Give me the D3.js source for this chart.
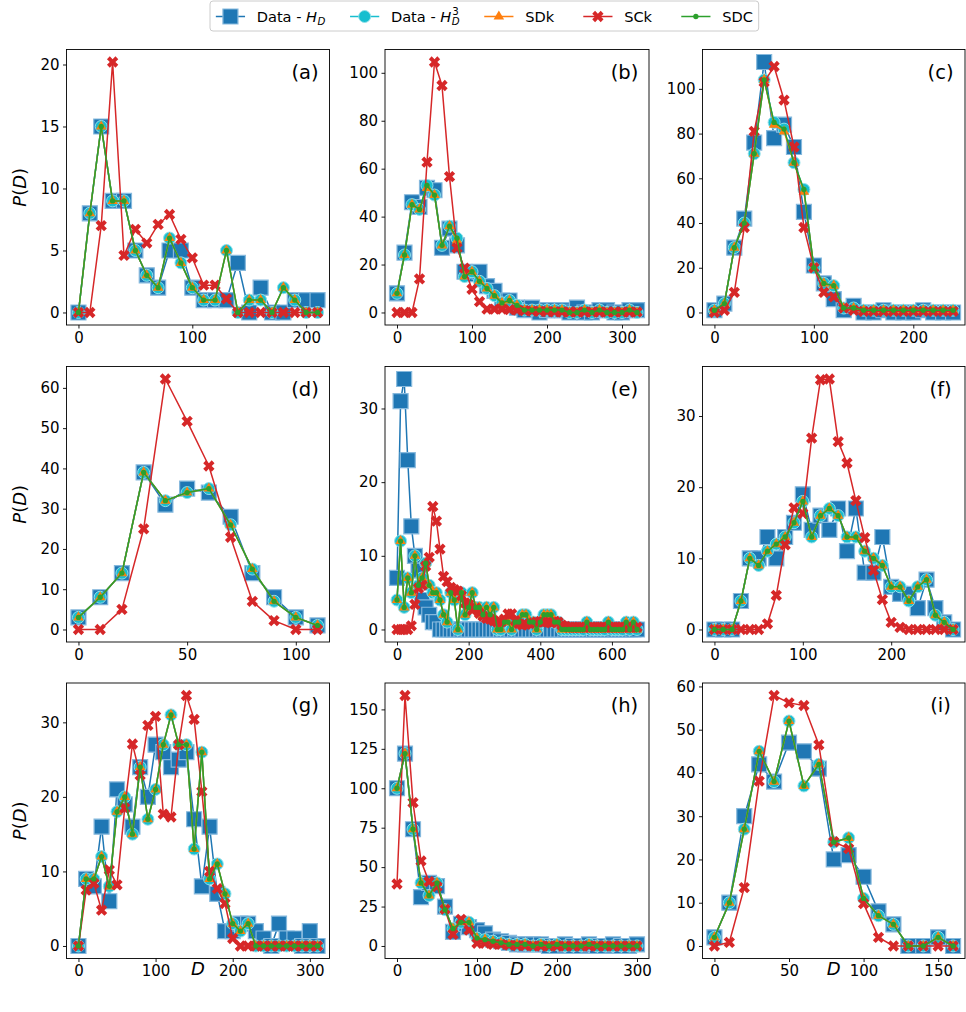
<!DOCTYPE html>
<html><head><meta charset="utf-8">
<script src="https://cdn.jsdelivr.net/npm/d3@7"></script>
<style>body{margin:0;background:#fff} svg{display:block} text{font-family:"DejaVu Sans",sans-serif;fill:#000}</style>
</head><body><svg id="c" width="966" height="1012"></svg>
<script>
// D values are spaced by this step in every panel (0, 10, 20, ...)
const stepD = 10;

// ---- (a) ----
const hdA  = [0,8,15,9,9,5,3,2,5,5,2,1,1,1,4,0,2,0,0,1,1,1];
const hd3A = [0,8,15,9,9,5,3,2,6,4,2,1,1,5,0,1,1,0,2,1,0,0];
const sdkA = [0,8,15,9,9,5,3,2,6,4,2,1,1,5,0,1,1,0,2,1,0,0];
const sckA = [0,0,7,20.2,4.6,6.7,5.6,7.1,7.9,5.9,4.4,2.2,2.2,1.1,0,0,0,0,0,0,0,0];
const sdcA = [0,8,15,9,9,5,3,2,6,4,2,1,1,5,0,1,1,0,2,1,0,0];
const xtA = [0,100,200], ytA = [0,5,10,15,20];

// ---- (b) ----
const hdB  = [8,25,46,44,52,51,27,35,28,17,16,17,11,9,5,5,2,1,2,0,1,1,1,0,2,0,0,1,1,0,0,1,1];
const hd3B = [8,24,45,43,53,49,28,36,31,15,17,13,10,7,4,5,3,1,1,1,1,1,1,0,0,1,0,1,0,0,0,1,0];
const sdkB = [8,24,45,43,52,49,28,36,30,15,17,13,10,7,4,5,3,1,1,1,1,1,1,0,0,1,0,1,0,0,0,1,0];
const sckB = [0,0,0,14,62.7,104.5,94.7,56.7,26.9,18.5,9.7,4.5,1.4,1.4,1.4,1.2,1.0,0.8,0.6,0.5,0.4,0.3,0.2,0.2,0.2,0.2,0.2,0.2,0.2,0.2,0.2,0.2,0.2];
const sdcB = [8,24,45,43,53,49,28,36,31,15,17,13,10,7,4,5,3,1,1,1,1,1,1,0,0,1,0,1,0,0,0,1,0];
const xtB = [0,100,200,300], ytB = [0,20,40,60,80,100];

// ---- (c) ----
const hdC  = [1,4,29,42,76,112,78,84,74,45,21,13,6,1,3,0,0,1,0,0,0,1,0,0,0];
const hd3C = [1,4,29,40,71,104,85,82,67,55,20,13,12,2,2,1,1,1,1,1,1,1,1,1,1];
const sdkC = [1,4,29,40,71,104,84,81,67,54,20,13,12,2,2,1,1,1,1,1,1,1,1,1,1];
const sckC = [0,1,9,38,81,103,110,95,74,38,20,9,7,2,1,0.5,0.5,0.5,0.5,0.5,0.5,0.5,0.5,0.5,0.5];
const sdcC = [1,4,29,40,71,104,85,82,67,55,20,13,12,2,2,1,1,1,1,1,1,1,1,1,1];
const xtC = [0,100,200], ytC = [0,20,40,60,80,100];

// ---- (d) ----
const hdD  = [3,8,14,39,31,35,34,28,14,8,3,1];
const hd3D = [3,8,14,39,32,34,35,26,15,7,3,1];
const sdkD = [3,8,14,39,32,34,35,26,15,7,3,1];
const sckD = [0,0,5,25,62.2,51.7,40.6,22.9,7,2.2,0,0];
const sdcD = [3,8,14,39,32,34,35,26,15,7,3,1];
const xtD = [0,50,100], ytD = [0,10,20,30,40,50,60];

// ---- (e) ----
const hdE  = [7,31,34,23,14,10,8,4,3,2,
              1,1,0,0,0,0,0,0,0,0,
              0,0,0,0,0,0,0,0,0,0,
              0,0,0,0,0,0,0,0,0,0,
              0,0,0,0,0,0,0,0,0,0,
              0,0,0,0,0,0,0,0,0,0,
              0,0,0,0,0,0,0,0];
const hd3E = [4,12,3,7,5,10,6,7,9,6,
              5,5,4,2,1,5,4,0,5,2,
              3,5,3,3,2,3,2,3,0,0,
              1,1,0,1,1,2,2,1,1,0,
              1,2,2,2,1,1,0,0,0,0,
              0,0,0,1,0,0,0,0,0,1,
              0,0,0,0,1,0,1,0];
const sdkE = [4,12,3,7,5,10,6,7,9,6,
              5,5,4,2,1,5,4,0,5,2,
              3,5,3,3,2,3,2,3,0,0,
              1,1,0,1,1,2,2,1,1,0,
              1,2,2,2,1,1,0,0,0,0,
              0,0,0,1,0,0,0,0,0,1,
              0,0,0,0,1,0,1,0];
const sckE = [0,0,0,0,0.5,3.4,5.6,6,8.6,9.8,
              16.7,14.7,10.9,7.2,6.5,5.7,5.4,5.2,4.6,3.6,
              3.4,2.6,2.9,2.2,1.8,1.5,1.4,1.2,1.0,1.0,
              1.4,2.1,2.1,1.2,0.8,0.6,0.7,0.8,0.9,1.0,
              1.1,1.0,1.0,0.9,1.1,1.0,0.6,0.4,0.3,0.3,
              0.3,0.3,0.3,0.3,0.3,0.3,0.3,0.3,0.3,0.3,
              0.3,0.3,0.3,0.3,0.3,0.3,0.3,0.3];
const sdcE = [4,12,3,7,5,10,6,7,9,6,
              5,5,4,2,1,5,4,0,5,2,
              3,5,3,3,2,3,2,3,0,0,
              1,1,0,1,1,2,2,1,1,0,
              1,2,2,2,1,1,0,0,0,0,
              0,0,0,1,0,0,0,0,0,1,
              0,0,0,0,1,0,1,0];
const xtE = [0,200,400,600], ytE = [0,10,20,30];

// ---- (f) ----
const hdF  = [0,0,0,4,10,10,13,10,13,15,19,14,16,14,17,11,17,8,8,13,6,5,5,3,7,3,1,0];
const hd3F = [0,0,0,4,10,9,11,12,13,15,18,13,16,17,16,13,13,11,10,9,6,6,4,6,7,2,1,0];
const sdkF = [0,0,0,4,10,9,11,12,13,15,18,13,16,17,16,13,13,11,10,9,6,6,4,6,7,2,1,0];
const sckF = [0,0,0,0,0,0,0.8,4.8,11.9,17.1,16.3,26.9,35.1,35.2,26.4,23.4,18.1,12.9,8.3,4.2,1,0.3,0,0,0,0,0,0];
const sdcF = [0,0,0,4,10,9,11,12,13,15,18,13,16,17,16,13,13,11,10,9,6,6,4,6,7,2,1,0];
const xtF = [0,100,200], ytF = [0,10,20,30];

// ---- (g) ----
const hdG  = [0,9,8,16,6,21,19,16,24,20,27,26,24,25,26,17,8,16,7,2,2,3,3,2,1,0,3,1,1,0,2,0];
const hd3G = [0,9,9,12,8,18,20,15,24,17,21,27,31,27,27,13,26,9,11,7,3,2,3,0,0,0,0,0,0,0,0,0];
const sdkG = [0,9,9,12,8,18,20,15,24,17,21,27,31,27,27,13,26,9,11,7,3,2,3,0,0,0,0,0,0,0,0,0];
const sckG = [0,7.5,8.4,4.8,10.2,8.2,18.5,27.1,22.9,29.6,30.8,17.7,17.3,27,33.6,30.4,20.7,10,7.7,5.7,1,0,0,0,0,0,0,0,0,0,0,0];
const sdcG = [0,9,9,12,8,18,20,15,24,17,21,27,31,27,27,13,26,9,11,7,3,2,3,0,0,0,0,0,0,0,0,0];
const xtG = [0,100,200,300], ytG = [0,10,20,30];

// ---- (h) ----
const hdH  = [100,122,74,31,40,38,25,9,14,12,10,8,4,3,2,1,1,1,1,0,0,1,0,0,1,0,0,1,0,0,1];
const hd3H = [100,122,74,40,32,40,23,11,15,15,5,4,3,2,1,1,1,0,1,0,1,0,0,0,1,0,0,0,0,0,0];
const sdkH = [100,122,74,40,32,40,23,11,15,15,5,4,3,2,1,1,1,0,1,0,1,0,0,0,1,0,0,0,0,0,0];
const sckH = [39.3,158.8,90.9,53.9,40.8,37.6,23.3,7.4,16.9,10.1,1.7,1.7,1,1,0.5,0.3,0.2,0,0,0,0,0,0,0,0,0,0,0,0,0,0];
const sdcH = [100,122,74,40,32,40,23,11,15,15,5,4,3,2,1,1,1,0,1,0,1,0,0,0,1,0,0,0,0,0,0];
const xtH = [0,100,200,300], ytH = [0,25,50,75,100,125,150];

// ---- (i) ----
const hdI  = [2,10,30,42,38,47,45,41,20,21,16,8,5,0,0,2,0];
const hd3I = [2,10,27,45,38,52,37,42,24,25,11,7,5,0,0,2,0];
const sdkI = [2,10,27,45,38,52,37,42,24,25,11,7,5,0,0,2,0];
const sckI = [0,0.85,13.5,38.1,57.9,56.2,55.6,46.5,24.1,22.5,9.8,2,0,0,0,0,0];
const sdcI = [2,10,27,45,38,52,37,42,24,25,11,7,5,0,0,2,0];
const xtI = [0,50,100,150], ytI = [0,10,20,30,40,50,60];

const panelLabels = ['(a)','(b)','(c)','(d)','(e)','(f)','(g)','(h)','(i)'];
const legendNames = ['Data - H_D','Data - H_D^3','SDk','SCk','SDC'];

const panels = [
  {hd:hdA,hd3:hd3A,sdk:sdkA,sck:sckA,sdc:sdcA,xt:xtA,yt:ytA},
  {hd:hdB,hd3:hd3B,sdk:sdkB,sck:sckB,sdc:sdcB,xt:xtB,yt:ytB},
  {hd:hdC,hd3:hd3C,sdk:sdkC,sck:sckC,sdc:sdcC,xt:xtC,yt:ytC},
  {hd:hdD,hd3:hd3D,sdk:sdkD,sck:sckD,sdc:sdcD,xt:xtD,yt:ytD},
  {hd:hdE,hd3:hd3E,sdk:sdkE,sck:sckE,sdc:sdcE,xt:xtE,yt:ytE},
  {hd:hdF,hd3:hd3F,sdk:sdkF,sck:sckF,sdc:sdcF,xt:xtF,yt:ytF},
  {hd:hdG,hd3:hd3G,sdk:sdkG,sck:sckG,sdc:sdcG,xt:xtG,yt:ytG},
  {hd:hdH,hd3:hd3H,sdk:sdkH,sck:sckH,sdc:sdcH,xt:xtH,yt:ytH},
  {hd:hdI,hd3:hd3I,sdk:sdkI,sck:sckI,sdc:sdcI,xt:xtI,yt:ytI},
];

const svg = d3.select('#c');
const colors = {hd:'#1f77b4', hd3:'#17becf', sdk:'#ff7f0e', sck:'#d62728', sdc:'#2ca02c'};
const keys = ['hd','hd3','sdk','sck','sdc'];
const markers = {
  hd:  {type:d3.symbolSquare, size:225, rot:0, stroke:'#86b9dd', sw:1.2},
  hd3: {type:d3.symbolCircle, size:113, rot:0, stroke:'#8fe0ea', sw:1},
  sdk: {type:d3.symbolTriangle, size:48, rot:0, stroke:'none', sw:0},
  sck: {type:d3.symbolCross, size:80, rot:45, stroke:'none', sw:0},
  sdc: {type:d3.symbolCircle, size:22, rot:0, stroke:'none', sw:0},
};
function drawMarker(g, k, cx, cy){
  const m = markers[k];
  g.append('path').attr('d', d3.symbol().type(m.type).size(m.size)())
   .attr('transform', `translate(${cx},${cy}) rotate(${m.rot})`)
   .attr('fill', colors[k]).attr('stroke', m.stroke).attr('stroke-width', m.sw);
}

const cols = [[66.5,329.5],[385,649],[702.5,965]];
const rows = [[49.5,325],[366.5,642],[683,958.5]];
const TF = 15;

panels.forEach((p, idx) => {
  const r = Math.floor(idx/3), c = idx%3;
  const [L,R] = cols[c], [T,B] = rows[r];
  const n = p.hd.length, xmax = (n-1)*stepD;
  const x = d3.scaleLinear().domain([-0.05*xmax, 1.05*xmax]).range([L,R]);
  const all = [].concat(p.hd,p.hd3,p.sdk,p.sck,p.sdc);
  const ymin = d3.min(all), ymax = d3.max(all), sp = ymax-ymin;
  const y = d3.scaleLinear().domain([ymin-0.05*sp, ymax+0.05*sp]).range([B,T]);
  const g = svg.append('g');

  const ax = g.append('g').attr('transform',`translate(0,${B})`)
    .call(d3.axisBottom(x).tickValues(p.xt).tickSize(3.5).tickPadding(3.5).tickFormat(d3.format('d')));
  const ay = g.append('g').attr('transform',`translate(${L},0)`)
    .call(d3.axisLeft(y).tickValues(p.yt).tickSize(3.5).tickPadding(3.5).tickFormat(d3.format('d')));
  [ax,ay].forEach(a=>{
    a.select('.domain').remove();
    a.attr('font-family',null).attr('font-size',null);
    a.selectAll('line').attr('stroke','#000').attr('stroke-width',0.9);
    a.selectAll('text').style('font-size',TF+'px').style('font-family','"DejaVu Sans", sans-serif').attr('fill','#000');
  });

  const line = d3.line().x((d,i)=>x(i*stepD)).y(d=>y(d));
  keys.forEach(k=>{
    const data = p[k];
    g.append('path').attr('d', line(data)).attr('fill','none')
      .attr('stroke', colors[k]).attr('stroke-width',1.5).attr('stroke-linejoin','round');
    const mg = g.append('g');
    data.forEach((v,i)=> drawMarker(mg, k, x(i*stepD), y(v)));
  });

  g.append('rect').attr('x',L).attr('y',T).attr('width',R-L).attr('height',B-T)
    .attr('fill','none').attr('stroke','#000').attr('stroke-width',0.9);

  g.append('text').attr('x', L+0.907*(R-L)).attr('y', T+29)
    .attr('text-anchor','middle').style('font-size','19.5px').text(panelLabels[idx]);

  if (c===0){
    const cy = (T+B)/2;
    const t = svg.append('text').attr('transform',`translate(26,${cy}) rotate(-90)`)
      .attr('text-anchor','middle').style('font-size','18px');
    t.append('tspan').style('font-style','italic').text('P');
    t.append('tspan').text('(');
    t.append('tspan').style('font-style','italic').text('D');
    t.append('tspan').text(')');
  }
  if (r===2){
    svg.append('text').attr('x',(L+R)/2).attr('y',975).attr('text-anchor','middle')
      .style('font-size','18px').style('font-style','italic').text('D');
  }
});

// ---- legend ----
const LF = 14.6;
const leg = svg.append('g');
const box = leg.append('rect');
function measure(str, size, italic){
  const t = svg.append('text').style('font-size',size+'px').style('font-style',italic?'italic':'normal').text(str);
  const w = t.node().getComputedTextLength(); t.remove(); return w;
}
let cx = 210 + 0.4*LF;
const ty = 21.5, my = 16.5;
legendNames.forEach((name, i) => {
  const k = keys[i];
  leg.append('line').attr('x1',cx).attr('x2',cx+2*LF).attr('y1',my).attr('y2',my)
    .attr('stroke',colors[k]).attr('stroke-width',1.5);
  drawMarker(leg, k, cx+LF, my);
  const tx = cx + 2.8*LF;
  const t = leg.append('text').attr('x',tx).attr('y',ty).style('font-size',LF+'px');
  let w;
  if (name.startsWith('Data')){
    const pre = 'Data - ';
    const subSize = LF*0.7;
    t.append('tspan').text(pre);
    t.append('tspan').style('font-style','italic').text('H');
    t.append('tspan').attr('dx',0.5).attr('dy',3.2).style('font-style','italic').style('font-size',subSize+'px').text('D');
    const wD = measure('D', subSize, true);
    if (name.endsWith('^3')){
      t.append('tspan').attr('dx',-wD+0.5).attr('dy',-9.7).style('font-size',subSize+'px').text('3');
    }
    w = measure(pre, LF, false) + measure('H', LF, true) + 0.5 + wD;
  } else {
    t.text(name);
    w = measure(name, LF, false);
  }
  cx = tx + w + 2*LF;
});
const boxR = cx - 2*LF + 0.4*LF;
box.attr('x',210).attr('y',1).attr('width',boxR-210).attr('height',30).attr('rx',3)
  .attr('fill','#fff').attr('fill-opacity',0.8).attr('stroke','#cccccc').attr('stroke-width',1);
</script></body></html>
